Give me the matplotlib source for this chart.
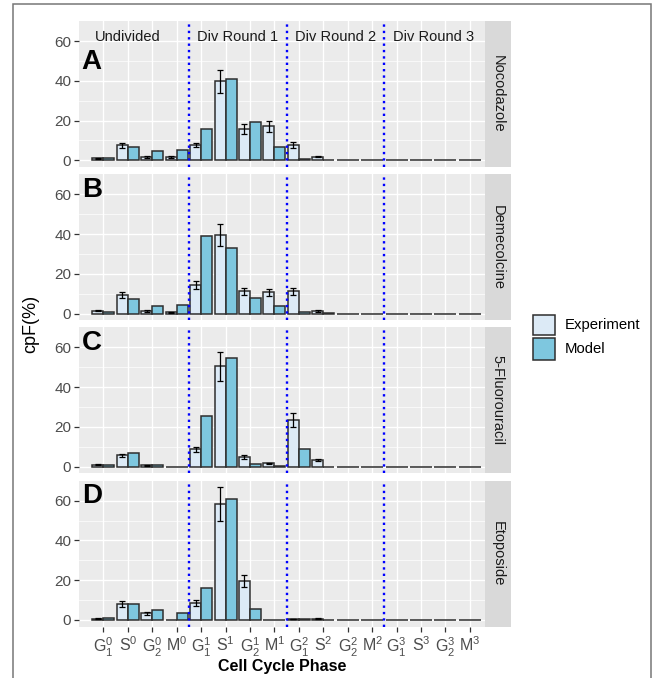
import matplotlib
matplotlib.use('Agg')
import matplotlib.pyplot as plt
import numpy as np
from matplotlib.patches import Rectangle

plt.rcParams['font.family'] = ['Liberation Sans', 'DejaVu Sans']
plt.rcParams['mathtext.fontset'] = 'custom'
plt.rcParams['mathtext.rm'] = 'Liberation Sans'
plt.rcParams['mathtext.it'] = 'Liberation Sans:italic'
plt.rcParams['mathtext.bf'] = 'Liberation Sans:bold'

# ---------------- data ----------------
tick_labels = [r'$\mathrm{G}_1^0$', r'$\mathrm{S}^0$', r'$\mathrm{G}_2^0$', r'$\mathrm{M}^0$',
               r'$\mathrm{G}_1^1$', r'$\mathrm{S}^1$', r'$\mathrm{G}_2^1$', r'$\mathrm{M}^1$',
               r'$\mathrm{G}_1^2$', r'$\mathrm{S}^2$', r'$\mathrm{G}_2^2$', r'$\mathrm{M}^2$',
               r'$\mathrm{G}_1^3$', r'$\mathrm{S}^3$', r'$\mathrm{G}_2^3$', r'$\mathrm{M}^3$']
treatments = ['Nocodazole', 'Demecolcine', '5-Fluorouracil', 'Etoposide']
panel_letters = ['A', 'B', 'C', 'D']
round_labels = ['Undivided', 'Div Round 1', 'Div Round 2', 'Div Round 3']
round_label_pos = [2.0, 6.5, 10.5, 14.5]
round_boundaries = [4.5, 8.5, 12.5]
series_names = ['Experiment', 'Model']

noco_exp = [1.0, 7.6, 1.7, 1.7, 7.7, 39.7, 15.8, 17.2, 7.7, 1.9, 0, 0, 0, 0, 0, 0]
noco_exp_sd = [0.3, 1.3, 0.3, 0.5, 1.2, 5.6, 2.3, 2.8, 1.3, 0.4, 0, 0, 0, 0, 0, 0]
noco_model = [1.0, 6.7, 4.7, 5.4, 15.8, 41.1, 19.5, 6.6, 0.8, 0.2, 0, 0, 0, 0, 0, 0]

deme_exp = [1.5, 9.4, 1.3, 0.7, 14.4, 39.4, 11.1, 10.6, 11.2, 1.3, 0, 0, 0, 0, 0, 0]
deme_exp_sd = [0.3, 1.6, 0.3, 0.2, 1.8, 5.6, 1.9, 1.9, 1.8, 0.3, 0, 0, 0, 0, 0, 0]
deme_model = [1.0, 7.2, 4.0, 4.5, 38.9, 32.8, 8.0, 3.7, 1.0, 0.2, 0, 0, 0, 0, 0, 0]

fluo_exp = [1.0, 5.8, 0.7, 0.1, 8.7, 50.5, 4.9, 1.7, 23.3, 3.6, 0, 0, 0, 0, 0, 0]
fluo_exp_sd = [0.2, 0.8, 0.2, 0.0, 1.2, 7.3, 0.8, 0.3, 3.5, 0.5, 0, 0, 0, 0, 0, 0]
fluo_model = [0.7, 7.0, 1.0, 0.1, 25.7, 54.9, 1.2, 0.5, 8.8, 0.1, 0, 0, 0, 0, 0, 0]

etop_exp = [0.7, 8.0, 3.3, 0.0, 8.5, 58.2, 19.5, 0.1, 0.5, 0.6, 0, 0, 0, 0, 0, 0]
etop_exp_sd = [0.1, 1.4, 0.7, 0.0, 1.4, 8.5, 2.9, 0.0, 0.2, 0.2, 0, 0, 0, 0, 0, 0]
etop_model = [1.2, 7.8, 4.8, 3.5, 16.3, 60.7, 5.7, 0.1, 0.5, 0.1, 0, 0, 0, 0, 0, 0]

exp_values = [noco_exp, deme_exp, fluo_exp, etop_exp]
exp_sds = [noco_exp_sd, deme_exp_sd, fluo_exp_sd, etop_exp_sd]
model_values = [noco_model, deme_model, fluo_model, etop_model]

# ---------------- style ----------------
W, H = 663, 678
exp_color = '#DCEAF6'
model_color = '#7EC7DF'
edge_color = '#2E2E2E'
panel_bg = '#EBEBEB'
strip_bg = '#D9D9D9'

fig = plt.figure(figsize=(W / 100, H / 100), dpi=100)

left_px, right_px = 79.0, 484.5
strip_right_px = 511.0
panel_tops = [21.0, 174.2, 327.4, 480.6]
panel_h = 146.0
letter_centers = [62.0, 190.0, 343.0, 496.0]

x = np.arange(1, len(tick_labels) + 1)
bw = 0.45

for i in range(4):
    top = panel_tops[i]
    ax = fig.add_axes([left_px / W, 1 - (top + panel_h) / H,
                       (right_px - left_px) / W, panel_h / H])
    ax.set_facecolor(panel_bg)
    for s in ax.spines.values():
        s.set_visible(False)
    ax.set_xlim(0.0, 16.6)
    ax.set_ylim(-3.34, 70.1)
    ax.set_yticks([0, 20, 40, 60])
    ax.set_yticks([10, 30, 50], minor=True)
    ax.set_xticks(x)
    ax.grid(True, which='major', color='white', lw=1.0)
    ax.grid(True, which='minor', axis='y', color='white', lw=0.5)
    ax.set_axisbelow(True)
    ax.tick_params(axis='y', which='major', length=3.5, width=0.9, color='#333333',
                   labelsize=11, labelcolor='#4D4D4D', pad=2)
    ax.tick_params(axis='y', which='minor', length=0)
    if i == 3:
        ax.set_xticklabels(tick_labels)
        ax.tick_params(axis='x', length=3.5, width=0.9, color='#333333',
                       labelsize=11.5, labelcolor='#4D4D4D', pad=3)
    else:
        ax.tick_params(axis='x', length=0, labelbottom=False)

    ev = np.array(exp_values[i])
    es = np.array(exp_sds[i])
    mv = np.array(model_values[i])
    ax.bar(x - bw / 2, ev, width=bw, color=exp_color, edgecolor=edge_color, lw=1.1, zorder=2)
    ax.bar(x + bw / 2, mv, width=bw, color=model_color, edgecolor=edge_color, lw=1.1, zorder=2)
    m = es > 0
    ax.errorbar((x - bw / 2)[m], ev[m], yerr=es[m], fmt='none', ecolor='black',
                elinewidth=0.9, capsize=2.2, capthick=0.9, zorder=3)

    for b in round_boundaries:
        ax.axvline(b, color='#0000FF', lw=1.7, ls=(0, (1, 1.7)), zorder=4)

    ax.text(0.52, -3.34 + (top + panel_h - letter_centers[i]) / panel_h * 73.44,
            panel_letters[i], fontsize=20, fontweight='bold', ha='center', va='center',
            color='black', zorder=5)

    if i == 0:
        for lab, pos in zip(round_labels, round_label_pos):
            ax.text(pos, 61.9, lab, fontsize=10.5, ha='center', va='center',
                    color='#1A1A1A', zorder=5)

    sax = fig.add_axes([right_px / W, 1 - (top + panel_h) / H,
                        (strip_right_px - right_px) / W, panel_h / H])
    sax.set_facecolor(strip_bg)
    for s in sax.spines.values():
        s.set_visible(False)
    sax.set_xticks([])
    sax.set_yticks([])
    sax.text(0.5, 0.5, treatments[i], rotation=270, ha='center', va='center',
             fontsize=10.5, color='#1A1A1A', transform=sax.transAxes)

# axis titles
fig.text(31 / W, 1 - 324 / H, 'cpF(%)', rotation=90, fontsize=13,
         ha='center', va='center', color='black')
fig.text((left_px + right_px) / 2 / W, 1 - 667 / H, 'Cell Cycle Phase',
         fontsize=11.5, fontweight='bold', ha='center', va='center', color='black')

# legend
leg_x0, leg_w = 533, 22
leg_items = [(series_names[0], exp_color, 315, 335),
             (series_names[1], model_color, 337.5, 360)]
for name, col, y0, y1 in leg_items:
    fig.add_artist(Rectangle((leg_x0 / W, 1 - y1 / H), leg_w / W, (y1 - y0) / H,
                             transform=fig.transFigure, facecolor=col,
                             edgecolor=edge_color, lw=1.1))
    fig.text(565 / W, 1 - (y0 + y1) / 2 / H, name, fontsize=10.7,
             ha='left', va='center', color='black')

# outer frame
fig.add_artist(Rectangle((12.5 / W, -0.01), (651 - 12.5) / W, 1.01 - 4.5 / H,
                         transform=fig.transFigure, fill=False,
                         edgecolor='#777777', lw=1.1))

fig.savefig('out.png', dpi=100, facecolor='white')
